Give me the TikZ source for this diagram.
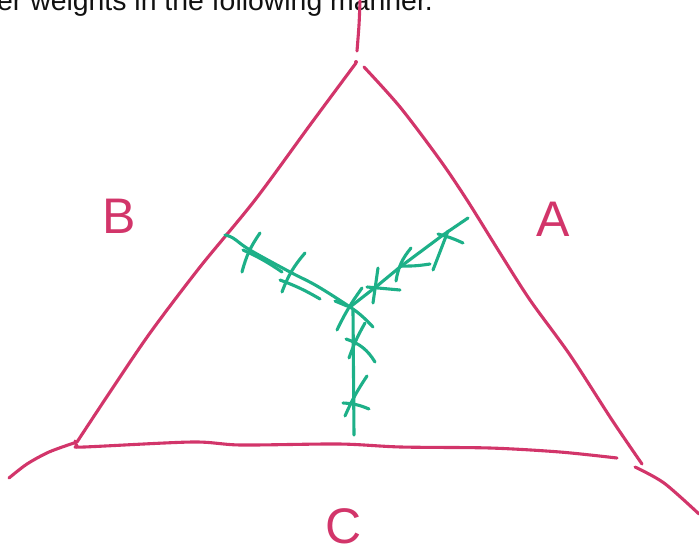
\documentclass[tikz,border=0pt]{standalone}
\usepackage{fontspec}
\setmainfont{Liberation Sans}
\usetikzlibrary{positioning,calc}
\definecolor{rosepink}{HTML}{D2356A}
\definecolor{tealgreen}{HTML}{1DB088}
\definecolor{inkgrey}{HTML}{111111}
\begin{document}
\begin{tikzpicture}[x=1pt, y=-1pt,
    pen/.style={line width=3.1pt, line cap=round, line join=round},
    tri/.style={pen, draw=rosepink},
    wt/.style={pen, draw=tealgreen},
    letter/.style={text=rosepink, font=\fontsize{50}{50}\selectfont, inner sep=0pt}
  ]
    \useasboundingbox (0,0) rectangle (699,550);
    \clip (0,0) rectangle (699,550);

    % Cut-off line of text at the top
    \node[anchor=base west, inner sep=0pt, text=inkgrey,
          font=\fontsize{28.4}{30}\selectfont] (caption) at (-3,10)
      {er weights in the following manner.};

    % Triangle: top stub, dot and the two sides
    \draw[tri] plot[smooth] coordinates {(360,1) (359,25) (357,51)};
    \fill[rosepink] (356,62) circle (2);
    \draw[tri] plot[smooth, tension=0.5] coordinates
      {(356,63) (310,125) (255,200) (200,267) (150,333) (110,392) (77,442)};
    \draw[tri] plot[smooth, tension=0.5] coordinates
      {(364,67) (400,107) (440,160) (467,200) (500,253) (530,300) (570,355) (612,420) (642,464)};

    % Bottom side with its hook
    \draw[tri] plot[smooth, tension=0.5] coordinates
      {(75,441) (77,446) (84,447) (192,442) (241,445) (339,444) (401,447) (490,448) (560,452) (617,458)};

    % Extensions beyond the lower corners
    \draw[tri] plot[smooth] coordinates {(74,443) (49,452) (27,464) (9,478)};
    \draw[tri] plot[smooth] coordinates {(635,467) (664,483) (699,514)};

    % Corner labels
    \node[letter] (labB) at (119,216) {B};
    \node[letter] (labA) at (553,219) {A};
    \node[letter] (labC) at (344,526) {C};

    % Weight tree
    \coordinate (j) at (350,307);
    \draw[wt] plot[smooth, tension=0.6] coordinates
      {(225,235) (233,238) (250,250) (290,272) (317,286) (j) (363,317) (373,327)};
    \draw[wt] (j) -- (377,286) -- (400,267) -- (443,235) -- (468,218);
    \draw[wt] (353,310) -- (354,435);

    % Strokes along the left arm
    \draw[wt] (243,250) to[bend left=5] (282,272);
    \draw[wt] (280,280) to[bend left=5] (320,299);
    \draw[wt] (335,301) -- (347,306);

    % Tick marks
    \draw[wt] (260,233) to[bend right=10] (242,272);
    \draw[wt] (305,253) to[bend right=10] (282,292);
    \draw[wt] (362,288) to[bend right=5] (337,330);
    \draw[wt] (378,268) -- (373,303);
    \draw[wt] (367,287) -- (400,290);
    \draw[wt] (411,248) to[bend right=15] (396,281);
    \draw[wt] (400,266) to[bend right=5] (430,264);
    \draw[wt] (448,231) -- (433,270);
    \draw[wt] (438,234) to[bend left=5] (463,243);
    \draw[wt] (365,323) to[bend right=5] (349,358);
    \draw[wt] (346,339) to[bend left=20] (375,362);
    \draw[wt] (367,376) to[bend right=5] (345,416);
    \draw[wt] (343,403) to[bend left=10] (369,409);
\end{tikzpicture}
\end{document}
